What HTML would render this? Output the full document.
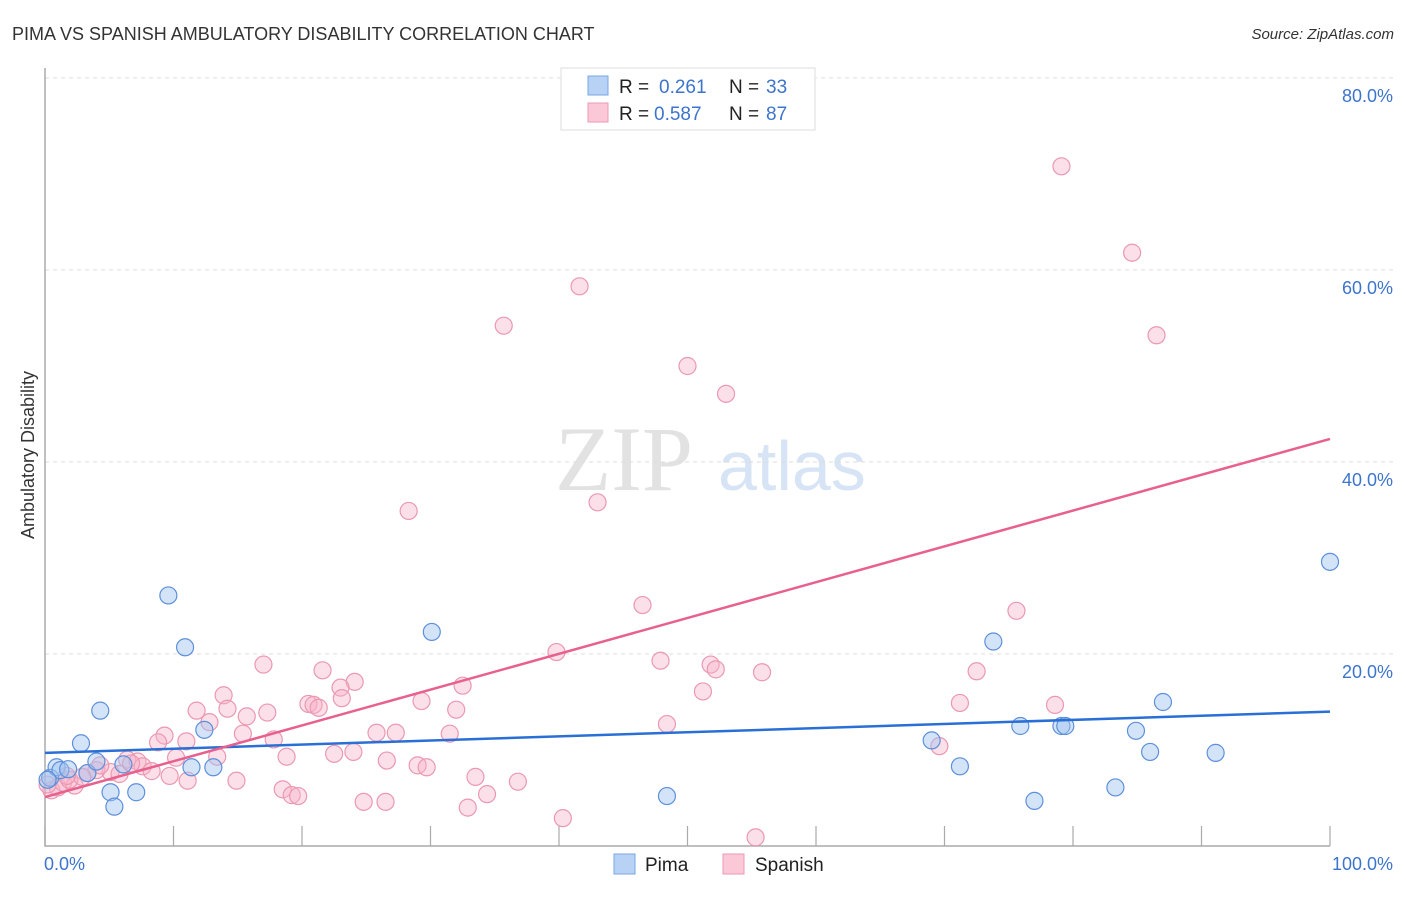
<!DOCTYPE html>
<html><head><meta charset="utf-8"><style>
body{margin:0;background:#fff;width:1406px;height:892px;overflow:hidden;font-family:"Liberation Sans",sans-serif}
</style></head><body>
<svg id="chart" width="1406" height="892" xmlns="http://www.w3.org/2000/svg" font-family="Liberation Sans, sans-serif">
<text x="12" y="40" font-size="18" fill="#333">PIMA VS SPANISH AMBULATORY DISABILITY CORRELATION CHART</text>
<text x="1394" y="39" font-size="15" fill="#333" font-style="italic" text-anchor="end">Source: ZipAtlas.com</text>
<g>
<text x="555" y="490" font-size="92" fill="#e2e2e2" font-family="Liberation Serif, serif">ZIP</text>
<text x="718" y="490" font-size="70" fill="#d6e4f5">atlas</text>
</g>
<g id="grid"></g>
<g id="axes"></g>
<g id="marks"></g>
<text transform="translate(34,455) rotate(-90)" font-size="18" fill="#333" text-anchor="middle">Ambulatory Disability</text>
<text x="44" y="870" font-size="18" fill="#3d74cc">0.0%</text>
<text x="1393" y="870" font-size="18" fill="#3d74cc" text-anchor="end">100.0%</text>
<g>
<rect x="561" y="68" width="254" height="62" fill="#fff" stroke="#ddd"/>
<rect x="588" y="76" width="20" height="19" fill="#b8d2f5" stroke="#7aa6e4"/>
<text x="619" y="93" font-size="19" fill="#222">R = </text><text x="659" y="93" font-size="19" fill="#3d74cc">0.261</text>
<text x="729" y="93" font-size="19" fill="#222">N = </text><text x="766" y="93" font-size="19" fill="#3d74cc">33</text>
<rect x="588" y="103" width="20" height="19" fill="#fbc8d8" stroke="#eb99b3"/>
<text x="619" y="120" font-size="19" fill="#222">R = </text><text x="654" y="120" font-size="19" fill="#3d74cc">0.587</text>
<text x="729" y="120" font-size="19" fill="#222">N = </text><text x="766" y="120" font-size="19" fill="#3d74cc">87</text>
</g>
<g>
<rect x="614" y="854" width="21" height="20" fill="#b8d2f5" stroke="#7aa6e4"/>
<text x="645" y="871" font-size="19" fill="#222">Pima</text>
<rect x="723" y="854" width="21" height="20" fill="#fbc8d8" stroke="#eb99b3"/>
<text x="755" y="871" font-size="19" fill="#222">Spanish</text>
</g>
</svg>
<script>
const yTicks=[20,40,60,80];
const yTickLabels=["20.0%","40.0%","60.0%","80.0%"];
const xTicks=[0,10,20,30,40,50,60,70,80,90,100];
const pimaX=[0.4,0.9,1.2,1.8,2.8,3.3,4.0,4.3,5.1,5.4,6.1,7.1,9.6,10.9,11.4,12.4,13.1,30.1,48.4,69.0,71.2,73.8,75.9,77.0,79.1,79.4,83.3,84.9,86.0,87.0,91.1,100,0.2];
const pimaY=[7.1,8.2,7.9,8.0,10.7,7.6,8.8,14.1,5.6,4.1,8.5,5.6,26.1,20.7,8.2,12.1,8.2,22.3,5.2,11.0,8.3,21.3,12.5,4.7,12.5,12.5,6.1,12.0,9.8,15.0,9.7,29.6,6.9];
const spanX=[79.1,84.6,86.5,41.6,35.7,50.0,53.0,28.3,43.0,46.5,75.6,39.8,47.9,51.8,52.2,55.8,72.5,51.2,17.0,21.6,24.1,23.0,32.5,23.1,13.9,20.5,20.9,21.3,29.3,71.2,78.6,11.8,14.2,15.7,17.3,12.8,32.0,48.4,9.3,8.8,11.0,15.4,17.8,25.8,27.3,31.5,69.6,13.4,10.2,18.8,22.5,24.0,26.6,29.0,29.7,6.4,7.2,7.6,8.3,5.1,4.0,3.3,5.8,6.7,4.3,9.7,11.1,14.9,18.5,19.2,19.7,24.8,26.5,33.5,36.8,34.4,32.9,40.3,55.3,0.5,1.0,0.2,1.4,2.3,1.9,2.9,1.7];
const spanY=[70.8,61.8,53.2,58.3,54.2,50.0,47.1,34.9,35.8,25.1,24.5,20.2,19.3,18.9,18.4,18.1,18.2,16.1,18.9,18.3,17.1,16.5,16.7,15.4,15.7,14.8,14.7,14.4,15.1,14.9,14.7,14.1,14.3,13.5,13.9,12.9,14.2,12.7,11.5,10.8,10.9,11.7,11.1,11.8,11.8,11.7,10.4,9.3,9.2,9.3,9.6,9.8,8.9,8.4,8.2,9.0,8.8,8.3,7.8,7.7,7.9,7.6,7.5,8.6,8.4,7.3,6.8,6.8,5.9,5.3,5.2,4.6,4.6,7.2,6.7,5.4,4.0,2.9,0.9,5.8,6.1,6.4,6.6,6.3,6.9,7.2,7.3];
const pimaTrend=[9.7,14.0];
const spanTrend=[5.1,42.4];
const NS="http://www.w3.org/2000/svg";
const sx=v=>45+v*12.85, sy=v=>846-v*9.6;
function mk(tag,attrs,parent){const e=document.createElementNS(NS,tag);for(const k in attrs)e.setAttribute(k,attrs[k]);parent.appendChild(e);return e;}
const grid=document.getElementById('grid'),axes=document.getElementById('axes'),marks=document.getElementById('marks');
yTicks.forEach((t,i)=>{
 const l=mk('line',{x1:45,x2:1393,y1:sy(t),y2:sy(t),stroke:'#ddd','stroke-dasharray':'4,4'},grid);
 
 
 const tx=mk('text',{x:1393,y:sy(t)+24,'font-size':18,fill:'#3d74cc','text-anchor':'end'},grid);
 tx.textContent=yTickLabels[i];
 
 
});
const ax=mk('path',{d:'M45 68 V846 H1330',fill:'none',stroke:'#aaa','stroke-width':1.5},axes);


xTicks.forEach(t=>{
 const l=mk('line',{x1:sx(t),x2:sx(t),y1:826,y2:846,stroke:'#aaa','stroke-width':1.2},axes);
 
 
});
spanX.forEach((x,i)=>{
 const c=mk('circle',{cx:sx(x),cy:sy(spanY[i]),r:8.5,fill:'rgba(248,178,200,0.4)',stroke:'#eb98b2','stroke-width':1.2},marks);
 
 
});
pimaX.forEach((x,i)=>{
 const c=mk('circle',{cx:sx(x),cy:sy(pimaY[i]),r:8.5,fill:'rgba(160,196,240,0.45)',stroke:'#5d90da','stroke-width':1.2},marks);
 
 
});
const lb=mk('line',{x1:sx(0),x2:sx(100),y1:sy(pimaTrend[0]),y2:sy(pimaTrend[1]),stroke:'#2a6fd6','stroke-width':2.5},marks);


const lp=mk('line',{x1:sx(0),x2:sx(100),y1:sy(spanTrend[0]),y2:sy(spanTrend[1]),stroke:'#e8608e','stroke-width':2.5},marks);


</script>
</body></html>
